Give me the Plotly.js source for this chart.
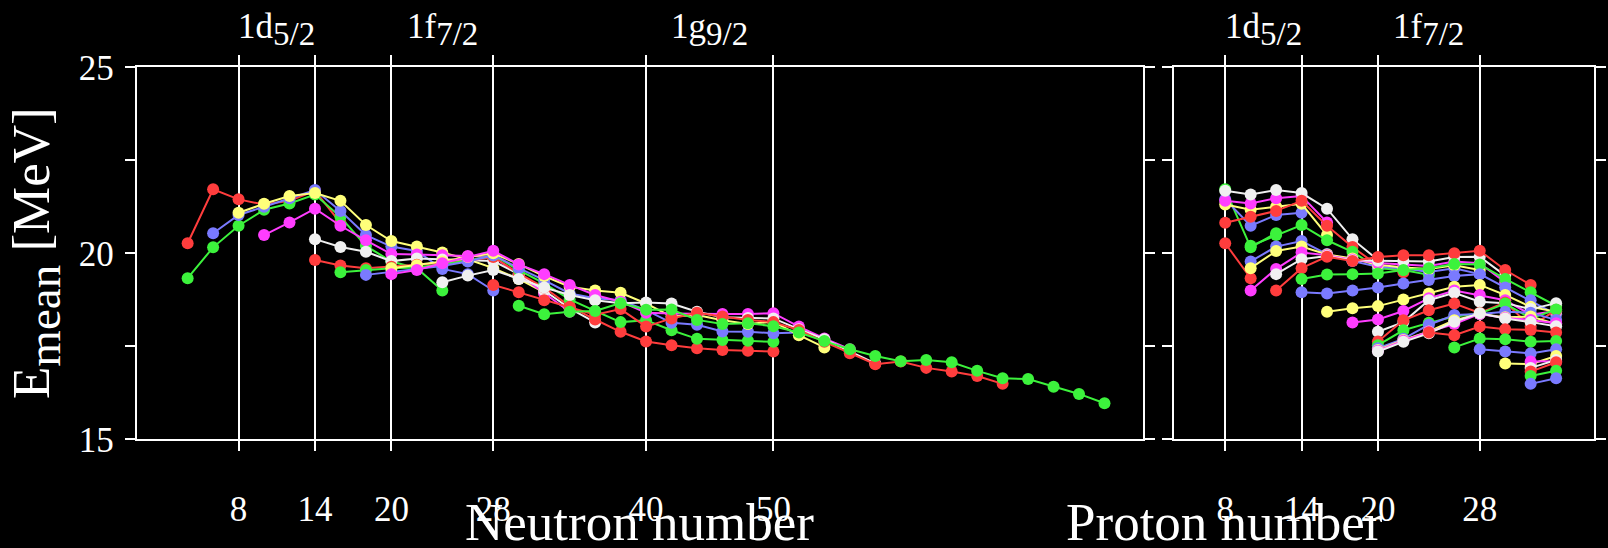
<!DOCTYPE html>
<html>
<head>
<meta charset="utf-8">
<script src="https://cdn.plot.ly/plotly-3.0.1.min.js"></script>
<style>
  html, body { margin: 0; padding: 0; background: #000; }
  #chart { width: 1608px; height: 548px; }
</style>
</head>
<body>
<div id="chart"></div>
<script>
// Mean giant-resonance energy of even-even nuclei, one chain per element.
const protonNumbers = [8, 10, 12, 14, 16, 18, 20, 22, 24, 26, 28, 30, 32, 34];
const firstNeutron  = [4, 4, 6, 8, 10, 14, 14, 16, 18, 20, 20, 24, 28, 30];

// E_mean [MeV] along each isotopic chain, N = firstNeutron, firstNeutron+2, ...
const eZ8  = [20.27, 21.72, 21.45, 21.31, 21.41, 21.68, 20.82];
const eZ10 = [19.33, 20.16, 20.74, 21.17, 21.34, 21.58, 20.98, 20.20, 19.78, 19.60, 19.00];
const eZ12 = [20.54, 21.03, 21.25, 21.48, 21.70, 21.14, 20.49, 20.18, 20.06, 19.58, 19.44, 19.00];
const eZ14 = [21.09, 21.33, 21.54, 21.62, 21.41, 20.76, 20.33, 20.18, 20.02, 19.84, 19.60, 19.31, 18.95];
const eZ16 = [20.49, 20.83, 21.20, 20.74, 20.35, 19.98, 19.97, 19.95, 19.93, 19.91, 19.43, 18.92, 18.43];
const eZ18 = [20.38, 20.17, 20.04, 19.79, 19.86, 19.83, 19.81, 19.79, 19.44, 19.00, 18.52, 18.14];
const eZ20 = [19.82, 19.67, 19.60, 19.64, 19.69, 19.74, 19.80, 19.90, 19.46, 19.08, 18.58, 18.22, 17.89,
              17.63, 17.53, 17.45, 17.40, 17.38, 17.36];
const eZ22 = [19.49, 19.55, 19.60, 19.62, 19.70, 19.80, 19.95, 19.55, 19.19, 18.76, 18.45, 18.15, 18.20,
              17.93, 17.70, 17.67, 17.65, 17.62];
const eZ24 = [19.42, 19.50, 19.58, 19.66, 19.78, 19.95, 19.60, 19.28, 18.92, 18.79, 18.74, 18.47, 18.13,
              18.08, 17.90, 17.89, 17.85, 17.87];
const eZ26 = [19.60, 19.68, 19.78, 19.90, 20.00, 19.71, 19.39, 19.10, 19.00, 18.94, 18.65, 18.30, 18.34,
              18.20, 18.10, 18.16, 17.80, 17.47];
const eZ28 = [19.44, 19.55, 19.73, 19.91, 20.07, 19.70, 19.44, 19.15, 18.88, 18.70, 18.40, 18.38, 18.37,
              18.37, 18.37, 18.39, 18.03, 17.71, 17.42];
const eZ30 = [19.22, 19.40, 19.55, 19.31, 19.08, 18.88, 18.74, 18.66, 18.68, 18.65, 18.43, 18.28, 18.26,
              18.25, 17.96, 17.69, 17.36, 17.04];
const eZ32 = [19.15, 18.95, 18.74, 18.56, 18.35, 18.50, 18.03, 18.25, 18.40, 18.30, 18.21, 18.15, 17.94,
              17.62, 17.31, 17.02, 17.09, 16.92, 16.82, 16.70, 16.49];
const eZ34 = [18.59, 18.36, 18.43, 18.45, 18.66, 18.48, 18.49, 18.21, 18.10, 18.12, 18.04, 17.87, 17.64,
              17.42, 17.24, 17.10, 17.13, 17.07, 16.84, 16.64, 16.62, 16.41, 16.22, 15.97];
const chainValues = [eZ8, eZ10, eZ12, eZ14, eZ16, eZ18, eZ20, eZ22, eZ24, eZ26, eZ28, eZ30, eZ32, eZ34];

// Magic numbers and the orbitals filled between them
const magicTicksN = [8, 14, 20, 28, 40, 50];
const magicTicksZ = [8, 14, 20, 28];
const shellOrbitals = ['1d', '1f', '1g'];
const shellSpins    = ['5/2', '7/2', '9/2'];
const shellCentres  = [11, 24, 45];

const palette = ['#ff3d3d', '#3cf23c', '#7a7aff', '#ffff7a', '#ff3dff', '#f0f0f0'];

const FONT = 'Liberation Serif';
const traces = [];

// Left panel: isotopic chains versus neutron number
protonNumbers.forEach((z, i) => {
  const vals = chainValues[i];
  const ns = vals.map((_, k) => firstNeutron[i] + 2 * k);
  traces.push({
    x: ns, y: vals, xaxis: 'x', yaxis: 'y',
    mode: 'lines+markers', name: 'Z=' + z,
    line: { color: palette[i % 6], width: 2 },
    marker: { color: palette[i % 6], size: 12 },
    hoverinfo: 'x+y'
  });
});

// Right panel: the same table regrouped into isotonic chains versus proton number
const isotones = {};
protonNumbers.forEach((z, i) => {
  chainValues[i].forEach((e, k) => {
    const n = firstNeutron[i] + 2 * k;
    (isotones[n] = isotones[n] || []).push([z, e]);
  });
});
Object.keys(isotones).map(Number).sort((a, b) => a - b).forEach(n => {
  const pts = isotones[n];
  if (pts.length < 2) return;
  const col = palette[((n - 4) / 2) % 6];
  traces.push({
    x: pts.map(p => p[0]), y: pts.map(p => p[1]), xaxis: 'x2', yaxis: 'y2',
    mode: 'lines+markers', name: 'N=' + n,
    line: { color: col, width: 2 },
    marker: { color: col, size: 12 },
    hoverinfo: 'x+y'
  });
});

const W = 1608, H = 548;
const axisCommon = {
  showline: true, linecolor: '#ffffff', linewidth: 2,
  ticks: 'outside', ticklen: 10, tickwidth: 2, tickcolor: '#ffffff',
  mirror: 'ticks', zeroline: false,
  tickfont: { family: FONT, size: 35, color: '#ffffff' }
};

const layout = {
  width: W, height: H,
  margin: { l: 0, r: 0, t: 0, b: 0 },
  paper_bgcolor: '#000000', plot_bgcolor: '#000000',
  showlegend: false,
  xaxis: Object.assign({}, axisCommon, {
    domain: [136.7 / W, 1142.7 / W], range: [0, 79],
    tickmode: 'array', tickvals: magicTicksN,
    showgrid: true, gridcolor: '#ffffff', gridwidth: 2,
    ticklabelstandoff: 28, anchor: 'y'
  }),
  yaxis: Object.assign({}, axisCommon, {
    domain: [1 - 439.3 / H, 1 - 67.3 / H], range: [15, 25],
    tickmode: 'array', tickvals: [15, 17.5, 20, 22.5, 25], ticktext: ['15', '', '20', '', '25'],
    showgrid: false, ticklabelstandoff: 4, anchor: 'x'
  }),
  xaxis2: Object.assign({}, axisCommon, {
    domain: [1174.3 / W, 1594.3 / W], range: [4, 37],
    tickmode: 'array', tickvals: magicTicksZ,
    showgrid: true, gridcolor: '#ffffff', gridwidth: 2,
    ticklabelstandoff: 28, anchor: 'y2'
  }),
  yaxis2: Object.assign({}, axisCommon, {
    domain: [1 - 439.3 / H, 1 - 67.3 / H], range: [15, 25],
    tickmode: 'array', tickvals: [15, 17.5, 20, 22.5, 25],
    showticklabels: false, showgrid: false, anchor: 'x2'
  }),
  annotations: []
};

// Axis titles
layout.annotations.push({
  xref: 'paper', yref: 'paper', x: 639.7 / W, y: -4 / H, yanchor: 'bottom',
  text: 'Neutron number', showarrow: false, borderpad: 0,
  font: { family: FONT, size: 53, color: '#ffffff' }
});
layout.annotations.push({
  xref: 'paper', yref: 'paper', x: 1384.3 / W, y: -4 / H, yanchor: 'bottom',
  text: 'Proton number', showarrow: false, borderpad: 0,
  font: { family: FONT, size: 53, color: '#ffffff' }
});
layout.annotations.push({
  xref: 'paper', yref: 'paper', x: 36 / W, y: 1 - 253 / H, xanchor: 'center', yanchor: 'middle',
  text: 'E<sub><span style="font-size:47px">mean</span></sub> [MeV]', textangle: -90, showarrow: false,
  font: { family: FONT, size: 53, color: '#ffffff' }
});

// Orbital labels above the panels
shellOrbitals.forEach((orb, i) => {
  const label = orb + '<sub><span style="font-size:33px">' + shellSpins[i] + '</span></sub>';
  layout.annotations.push({
    xref: 'x', yref: 'paper', x: shellCentres[i], y: 1 - 54 / H, yanchor: 'bottom',
    text: label, showarrow: false, font: { family: FONT, size: 35, color: '#ffffff' }
  });
  if (i < 2) {
    layout.annotations.push({
      xref: 'x2', yref: 'paper', x: shellCentres[i], y: 1 - 54 / H, yanchor: 'bottom',
      text: label, showarrow: false, font: { family: FONT, size: 35, color: '#ffffff' }
    });
  }
});

Plotly.newPlot('chart', traces, layout, { staticPlot: true, displayModeBar: false });
</script>
</body>
</html>
